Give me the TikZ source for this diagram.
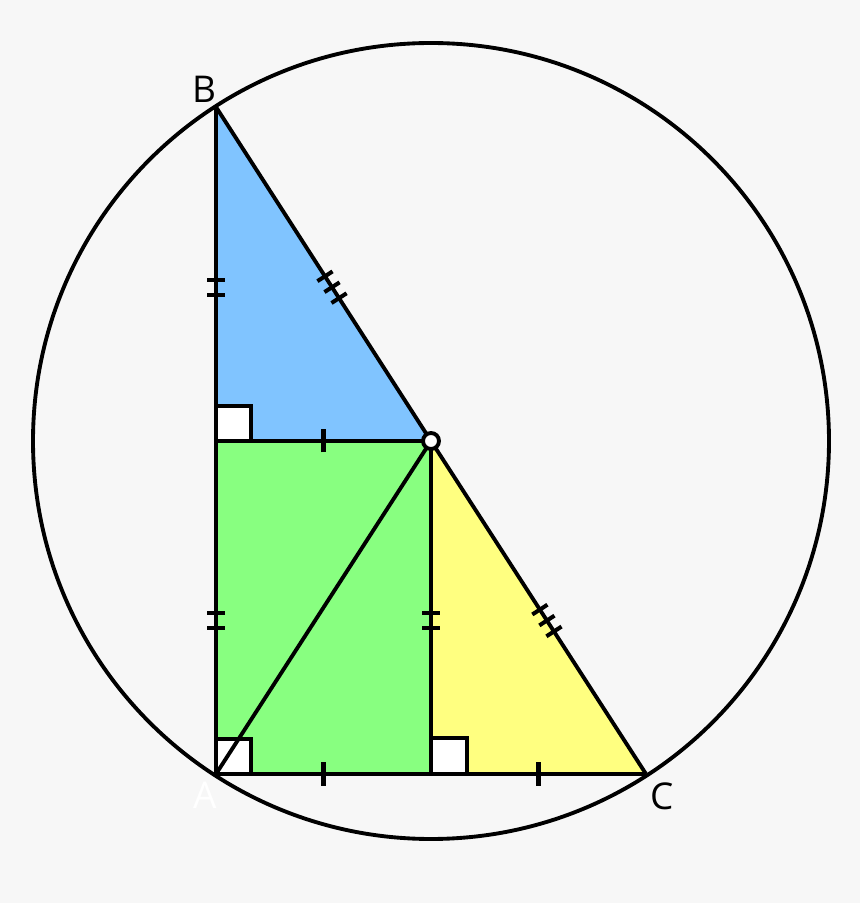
\documentclass[tikz,border=0pt]{standalone}
\usepackage{fontspec}
\setmainfont{Open Sans}
\usetikzlibrary{calc,decorations.markings}

\definecolor{bgcol}{HTML}{F7F7F7}
\definecolor{bluefill}{HTML}{80C4FF}
\definecolor{greenfill}{HTML}{88FF80}
\definecolor{yellowfill}{HTML}{FFFF80}

\tikzset{
  edge/.style={line width=1.1pt},
  rightbox/.style={line width=1.1pt, fill=white},
  tickline/.style={line width=1.15pt},
  lbl/.style={font=\fontsize{10.5}{12}\selectfont},
  onetick/.style={postaction={decorate, decoration={markings,
    mark=at position 0.5 with {\draw[tickline] (0,-0.115) -- (0,0.115);}}}},
  twotick/.style={postaction={decorate, decoration={markings,
    mark=at position 0.54 with {\draw[tickline] (-0.075,-0.09) -- (-0.075,0.09) (0.075,-0.09) -- (0.075,0.09);}}}},
  threetick/.style={postaction={decorate, decoration={markings,
    mark=at position 0.54 with {\draw[tickline] (-0.13,-0.09) -- (-0.13,0.09) (0,-0.09) -- (0,0.09) (0.13,-0.09) -- (0.13,0.09);}}}}
}

\begin{document}
\begin{tikzpicture}
\fill[bgcol] (0,0) rectangle (8.6,9.03);
\useasboundingbox (0,0) rectangle (8.6,9.03);

% points of the triangle
\coordinate (A) at (2.16,1.29);
\coordinate (B) at (2.16,7.96);
\coordinate (C) at (6.46,1.29);
\coordinate (M) at (4.31,4.62);
\coordinate (D) at (2.16,4.62);
\coordinate (E) at (4.31,1.29);

% coloured pieces
\fill[bluefill] (B) -- (D) -- (M) -- cycle;
\fill[greenfill] (A) -- (D) -- (M) -- (E) -- cycle;
\fill[yellowfill] (M) -- (E) -- (C) -- cycle;

% right angle marks
\draw[rightbox] (D) rectangle ++(0.35,0.35);
\draw[rightbox] (A) rectangle ++(0.35,0.35);
\draw[rightbox] (E) rectangle ++(0.36,0.36);

% sides
\draw[edge, twotick] (B) -- (D);
\draw[edge, twotick] (D) -- (A);
\draw[edge, onetick] (A) -- (E);
\draw[edge, onetick] (E) -- (C);
\draw[edge, onetick] (D) -- (M);
\draw[edge, twotick] (M) -- (E);
\draw[edge, threetick] (B) -- (M);
\draw[edge, threetick] (M) -- (C);
\draw[edge] (A) -- (M);

% circumcircle
\draw[edge] (M) circle (3.98);
\draw[edge, fill=white] (M) circle (0.08);

% labels
\node[lbl] (labB) at (2.04,8.14) {B};
\node[lbl] (labC) at (6.62,1.07) {C};
\node[lbl, white] (labA) at (2.05,1.08) {A};
\end{tikzpicture}
\end{document}
